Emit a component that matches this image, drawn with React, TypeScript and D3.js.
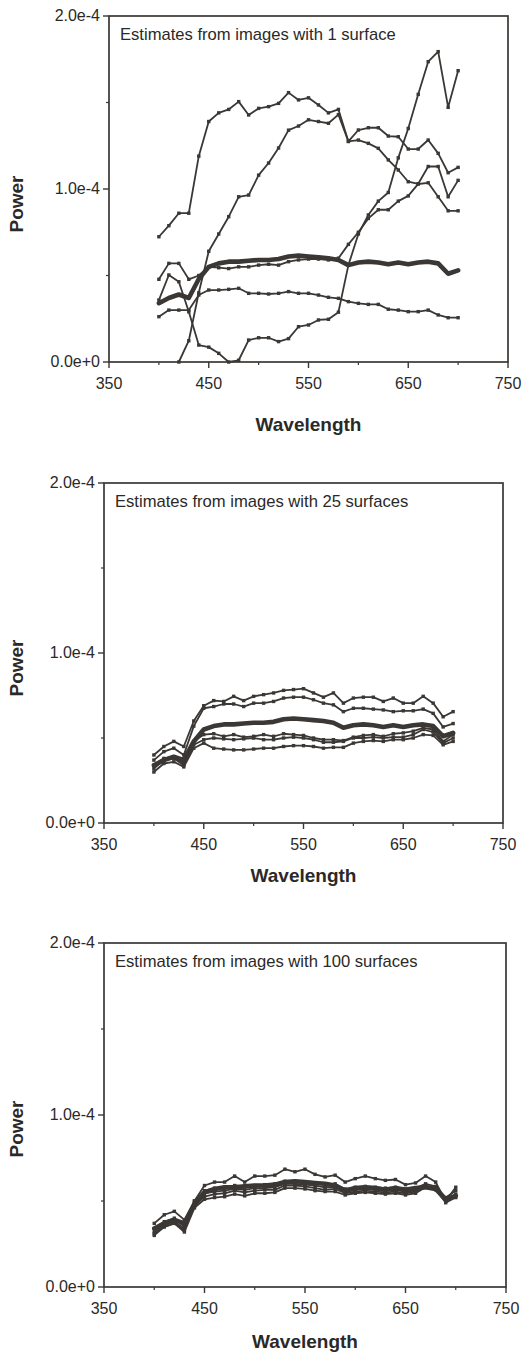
import React from 'react';
import * as d3 from 'd3';

// Wavelength samples (nm)
const WAVELENGTHS = [400, 410, 420, 430, 440, 450, 460, 470, 480, 490, 500, 510, 520, 530, 540, 550, 560, 570, 580, 590, 600, 610, 620, 630, 640, 650, 660, 670, 680, 690, 700];

// All power values below are in units of 1e-4
const UNIT = 1e-4;

// True illuminant (thick line, shared by all panels)
const TRUE_SPECTRUM = [0.34, 0.37, 0.39, 0.37, 0.48, 0.55, 0.57, 0.58, 0.58, 0.585, 0.59, 0.59, 0.595, 0.61, 0.615, 0.61, 0.605, 0.6, 0.59, 0.56, 0.575, 0.58, 0.575, 0.565, 0.575, 0.565, 0.575, 0.58, 0.57, 0.51, 0.53];

// Panel 1: estimates from images with 1 surface
const ONE_A = [0.724, 0.788, 0.86, 0.86, 1.19, 1.39, 1.44, 1.46, 1.505, 1.428, 1.466, 1.476, 1.495, 1.557, 1.515, 1.527, 1.486, 1.44, 1.46, 1.275, 1.341, 1.354, 1.354, 1.306, 1.302, 1.231, 1.231, 1.283, 1.206, 1.094, 1.125];
const ONE_B = [null, null, 0.0, 0.123, 0.4, 0.64, 0.74, 0.84, 0.955, 0.965, 1.08, 1.15, 1.237, 1.34, 1.364, 1.4, 1.39, 1.38, 1.43, 1.275, 1.283, 1.264, 1.235, 1.168, 1.11, 1.042, 1.029, 1.036, 0.955, 0.874, 0.874];
const ONE_C = [0.358, 0.503, 0.464, 0.29, 0.098, 0.086, 0.05, 0.0, 0.01, 0.127, 0.14, 0.14, 0.118, 0.135, 0.204, 0.214, 0.243, 0.247, 0.288, 0.56, 0.74, 0.85, 0.93, 0.98, 1.18, 1.35, 1.547, 1.736, 1.794, 1.472, 1.684];
const ONE_D = [0.478, 0.57, 0.57, 0.478, 0.5, 0.55, 0.545, 0.54, 0.55, 0.55, 0.56, 0.565, 0.56, 0.58, 0.59, 0.595, 0.595, 0.59, 0.6, 0.68, 0.75, 0.83, 0.88, 0.88, 0.93, 0.96, 1.03, 1.13, 1.13, 0.955, 1.05];
const ONE_E = [0.262, 0.3, 0.3, 0.3, 0.387, 0.416, 0.416, 0.42, 0.426, 0.397, 0.397, 0.393, 0.397, 0.407, 0.397, 0.397, 0.387, 0.374, 0.368, 0.349, 0.339, 0.333, 0.333, 0.305, 0.3, 0.291, 0.291, 0.3, 0.272, 0.256, 0.256];

// Panel 2: estimates from images with 25 surfaces
const TWENTYFIVE_A = [0.4, 0.45, 0.48, 0.45, 0.6, 0.69, 0.72, 0.715, 0.745, 0.72, 0.745, 0.755, 0.765, 0.78, 0.785, 0.79, 0.765, 0.74, 0.765, 0.705, 0.735, 0.74, 0.74, 0.715, 0.735, 0.705, 0.705, 0.745, 0.705, 0.625, 0.655];
const TWENTYFIVE_B = [0.37, 0.42, 0.44, 0.4, 0.57, 0.675, 0.685, 0.7, 0.7, 0.685, 0.705, 0.705, 0.715, 0.735, 0.74, 0.74, 0.725, 0.705, 0.695, 0.655, 0.675, 0.675, 0.67, 0.665, 0.655, 0.66, 0.66, 0.67, 0.645, 0.565, 0.585];
const TWENTYFIVE_C = [0.34, 0.38, 0.39, 0.35, 0.48, 0.52, 0.525, 0.51, 0.52, 0.505, 0.51, 0.52, 0.51, 0.525, 0.52, 0.515, 0.5, 0.49, 0.49, 0.485, 0.505, 0.515, 0.52, 0.51, 0.525, 0.53, 0.54, 0.56, 0.55, 0.48, 0.52];
const TWENTYFIVE_D = [0.32, 0.37, 0.38, 0.34, 0.46, 0.49, 0.5, 0.495, 0.49, 0.495, 0.5, 0.49, 0.49, 0.5, 0.505, 0.5, 0.49, 0.475, 0.475, 0.48, 0.5, 0.5, 0.505, 0.5, 0.505, 0.505, 0.52, 0.55, 0.535, 0.47, 0.5];
const TWENTYFIVE_E = [0.3, 0.35, 0.36, 0.33, 0.44, 0.47, 0.44, 0.435, 0.43, 0.43, 0.435, 0.44, 0.44, 0.45, 0.455, 0.455, 0.45, 0.44, 0.445, 0.445, 0.47, 0.48, 0.485, 0.48, 0.49, 0.49, 0.5, 0.52, 0.515, 0.46, 0.48];

// Panel 3: estimates from images with 100 surfaces
const HUNDRED_A = [0.37, 0.42, 0.44, 0.39, 0.5, 0.59, 0.61, 0.61, 0.645, 0.61, 0.645, 0.645, 0.65, 0.685, 0.67, 0.685, 0.655, 0.64, 0.65, 0.61, 0.63, 0.645, 0.63, 0.62, 0.625, 0.595, 0.605, 0.645, 0.61, 0.5, 0.58];
const HUNDRED_B = [0.34, 0.38, 0.4, 0.35, 0.5, 0.56, 0.575, 0.58, 0.59, 0.585, 0.59, 0.595, 0.6, 0.615, 0.615, 0.61, 0.605, 0.595, 0.6, 0.57, 0.58, 0.585, 0.58, 0.575, 0.58, 0.57, 0.575, 0.6, 0.585, 0.52, 0.56];
const HUNDRED_C = [0.32, 0.36, 0.38, 0.34, 0.49, 0.545, 0.555, 0.56, 0.57, 0.565, 0.575, 0.575, 0.58, 0.6, 0.6, 0.595, 0.59, 0.58, 0.58, 0.555, 0.565, 0.57, 0.565, 0.56, 0.565, 0.555, 0.56, 0.59, 0.575, 0.5, 0.53];
const HUNDRED_D = [0.3, 0.35, 0.37, 0.33, 0.47, 0.525, 0.54, 0.545, 0.56, 0.55, 0.56, 0.565, 0.565, 0.59, 0.59, 0.585, 0.575, 0.565, 0.57, 0.545, 0.555, 0.56, 0.555, 0.55, 0.555, 0.545, 0.555, 0.585, 0.565, 0.49, 0.52];
const HUNDRED_E = [0.31, 0.35, 0.37, 0.32, 0.46, 0.51, 0.52, 0.525, 0.54, 0.53, 0.545, 0.545, 0.55, 0.575, 0.575, 0.57, 0.56, 0.555, 0.555, 0.535, 0.545, 0.55, 0.545, 0.54, 0.545, 0.535, 0.545, 0.58, 0.57, 0.505, 0.54];

// Axis ticks
const X_TICKS = [350, 450, 550, 650, 750];
const X_MINOR_TICKS = [400, 500, 600, 700];
const Y_TICKS = [0, 1e-4, 2e-4];
const Y_TICK_LABELS = ['0.0e+0', '1.0e-4', '2.0e-4'];
const Y_MINOR_TICKS = [0.5e-4, 1.5e-4];

const TITLES = [
  'Estimates from images with 1 surface',
  'Estimates from images with 25 surfaces',
  'Estimates from images with 100 surfaces',
];
const X_LABEL = 'Wavelength';
const Y_LABEL = 'Power';

const PANEL_SERIES = [
  [ONE_A, ONE_B, ONE_C, ONE_D, ONE_E],
  [TWENTYFIVE_A, TWENTYFIVE_B, TWENTYFIVE_C, TWENTYFIVE_D, TWENTYFIVE_E],
  [HUNDRED_A, HUNDRED_B, HUNDRED_C, HUNDRED_D, HUNDRED_E],
];

// Layout (pixels)
const BOXES = [
  { left: 109, right: 508, top: 16, bottom: 362, xLabelDy: 69, yLabelDy: 15 },
  { left: 104, right: 503, top: 483, bottom: 823, xLabelDy: 59, yLabelDy: 15 },
  { left: 104, right: 506, top: 943, bottom: 1287, xLabelDy: 61, yLabelDy: 14 },
];

const INK = '#3a3734';
const FONT = 'Liberation Sans, Arial, Helvetica, sans-serif';

type Box = typeof BOXES[number];

function Panel({ box, title, series }: { box: Box; title: string; series: (number | null)[][] }) {
  const x = d3.scaleLinear().domain([350, 750]).range([box.left, box.right]);
  const y = d3.scaleLinear().domain([0, 2e-4]).range([box.bottom, box.top]);

  const line = d3
    .line<[number, number | null]>()
    .defined((d) => d[1] != null)
    .x((d) => x(d[0]))
    .y((d) => y((d[1] as number) * UNIT));

  const toPts = (vals: (number | null)[]) => WAVELENGTHS.map((w, i) => [w, vals[i]] as [number, number | null]);
  const clipId = `clip-${box.top}`;
  const midY = (box.top + box.bottom) / 2;
  const midX = (box.left + box.right) / 2;

  return (
    <g>
      <defs>
        <clipPath id={clipId}>
          <rect x={box.left} y={box.top} width={box.right - box.left} height={box.bottom - box.top + 2} />
        </clipPath>
      </defs>
      <rect
        x={box.left}
        y={box.top}
        width={box.right - box.left}
        height={box.bottom - box.top}
        fill="none"
        stroke={INK}
        strokeWidth={1.7}
      />
      {Y_TICKS.map((t, i) => (
        <g key={'yt' + i}>
          <line x1={box.left - 6} x2={box.left} y1={y(t)} y2={y(t)} stroke={INK} strokeWidth={1.4} />
          <text x={box.left - 9} y={y(t) + 5} textAnchor="end" fontSize={16} fontFamily={FONT} fill="#2b2927">
            {Y_TICK_LABELS[i]}
          </text>
        </g>
      ))}
      {Y_MINOR_TICKS.map((t, i) => (
        <line key={'ym' + i} x1={box.left - 3} x2={box.left} y1={y(t)} y2={y(t)} stroke={INK} strokeWidth={1.2} />
      ))}
      {X_TICKS.map((t) => (
        <g key={'xt' + t}>
          <line x1={x(t)} x2={x(t)} y1={box.bottom} y2={box.bottom + 6} stroke={INK} strokeWidth={1.4} />
          <text x={x(t)} y={box.bottom + 27} textAnchor="middle" fontSize={16} fontFamily={FONT} fill="#2b2927">
            {t}
          </text>
        </g>
      ))}
      {X_MINOR_TICKS.map((t) => (
        <line key={'xm' + t} x1={x(t)} x2={x(t)} y1={box.bottom} y2={box.bottom + 3} stroke={INK} strokeWidth={1.2} />
      ))}
      <text x={box.left + 11} y={box.top + 24} fontSize={16.6} fontFamily={FONT} fill="#2b2927">
        {title}
      </text>
      <text
        x={midX}
        y={box.bottom + box.xLabelDy}
        textAnchor="middle"
        fontSize={19}
        fontWeight="bold"
        fontFamily={FONT}
        fill="#2b2927"
      >
        {X_LABEL}
      </text>
      <text
        transform={`translate(${23},${midY + box.yLabelDy}) rotate(-90)`}
        textAnchor="middle"
        fontSize={19}
        fontWeight="bold"
        fontFamily={FONT}
        fill="#2b2927"
      >
        {Y_LABEL}
      </text>
      <g clipPath={`url(#${clipId})`}>
        <path
          d={line(toPts(TRUE_SPECTRUM)) || ''}
          fill="none"
          stroke={INK}
          strokeWidth={4.6}
          strokeLinejoin="round"
          strokeLinecap="round"
        />
        {series.map((vals, si) => (
          <g key={'s' + si}>
            <path d={line(toPts(vals)) || ''} fill="none" stroke={INK} strokeWidth={1.8} strokeLinejoin="round" />
            {toPts(vals)
              .filter((d) => d[1] != null)
              .map((d, i) => (
                <rect
                  key={i}
                  x={x(d[0]) - 1.7}
                  y={y((d[1] as number) * UNIT) - 1.7}
                  width={3.4}
                  height={3.4}
                  fill={INK}
                />
              ))}
          </g>
        ))}
      </g>
    </g>
  );
}

export default function App() {
  return (
    <svg
      width={522}
      height={1361}
      viewBox="0 0 522 1361"
      style={{ position: 'absolute', left: 0, top: 0, display: 'block', background: '#ffffff' }}
    >
      <rect x={0} y={0} width={522} height={1361} fill="#ffffff" />
      {BOXES.map((box, i) => (
        <Panel key={i} box={box} title={TITLES[i]} series={PANEL_SERIES[i]} />
      ))}
    </svg>
  );
}
